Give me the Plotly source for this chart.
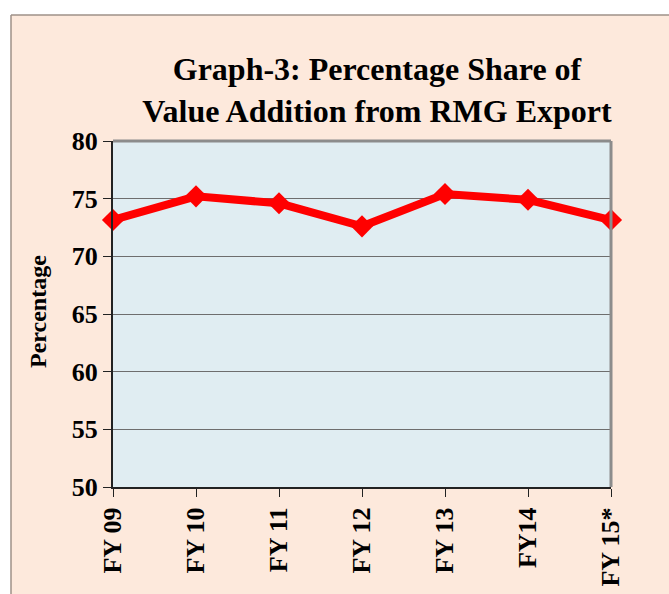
import plotly.graph_objects as go

categories = ["FY 09", "FY 10", "FY 11", "FY 12", "FY 13", "FY14", "FY 15*"]
values = [73.15, 75.2, 74.6, 72.6, 75.4, 74.9, 73.15]
y_ticks = [50, 55, 60, 65, 70, 75, 80]

W, H = 669, 594
L, R, T, B = 113, 58, 141, 107

PEACH = "#FDE9DC"
FONT = "Liberation Serif"

fig = go.Figure()
fig.add_trace(go.Scatter(
    x=categories, y=values, mode="lines+markers",
    line=dict(color="#FF0000", width=8),
    marker=dict(symbol="diamond", size=17, color="#FF0000"),
    showlegend=False, cliponaxis=False,
))

def px_x(p):
    return (p - L) / (W - L - R)

def px_y(p):
    return (H - B - p) / (H - T - B)

shapes = [
    dict(type="rect", xref="paper", yref="paper", x0=-1, x1=3, y0=px_y(15), y1=3,
         fillcolor="white", line_width=0, layer="below"),
    dict(type="rect", xref="paper", yref="paper", x0=-1, x1=px_x(11), y0=-3, y1=3,
         fillcolor="white", line_width=0, layer="below"),
    dict(type="line", xref="paper", yref="paper", x0=px_x(11), x1=3, y0=px_y(15), y1=px_y(15),
         line=dict(color="#9E9189", width=1.5)),
    dict(type="line", xref="paper", yref="paper", x0=px_x(11), x1=px_x(11), y0=-3, y1=px_y(15),
         line=dict(color="#9E9189", width=1.5)),
    dict(type="line", xref="paper", yref="paper", x0=0, x1=1, y0=1, y1=1,
         line=dict(color="#8C8C8C", width=3)),
    dict(type="line", xref="paper", yref="paper", x0=1, x1=1, y0=0, y1=1,
         line=dict(color="#8C8C8C", width=3)),
]

fig.update_layout(
    width=W, height=H,
    margin=dict(l=L, r=R, t=T, b=B, autoexpand=False),
    paper_bgcolor=PEACH,
    plot_bgcolor="#E0EDF2",
    shapes=shapes,
    title=dict(
        text="<b>Graph-3: Percentage Share of<br>Value Addition from RMG Export</b>",
        x=377 / W, xanchor="center", xref="container",
        y=1 - 80 / H, yanchor="middle", yref="container",
        font=dict(family=FONT, size=32, color="black"),
    ),
    annotations=[dict(
        text="<b>Percentage</b>", textangle=-90,
        xref="paper", yref="paper", x=px_x(38), y=px_y(312),
        xanchor="center", yanchor="middle", showarrow=False,
        font=dict(family=FONT, size=24, color="black"),
    )],
)

fig.update_xaxes(
    type="category", range=[0, len(categories) - 1],
    automargin=False,
    showgrid=False, zeroline=False,
    showline=True, linecolor="#222222", linewidth=2,
    ticks="outside", ticklen=8, tickcolor="#222222", tickwidth=1,
    tickangle=-90,
    tickfont=dict(family=FONT, size=26, color="black", weight="bold"),
)
fig.update_yaxes(
    range=[50, 80], tickvals=y_ticks,
    automargin=False,
    showgrid=True, gridcolor="#6E6E6E", gridwidth=1,
    zeroline=False,
    showline=True, linecolor="#222222", linewidth=2,
    ticks="outside", ticklen=8, tickcolor="#222222", tickwidth=1,
    tickfont=dict(family=FONT, size=26, color="black", weight="bold"),
)

fig.write_html(
    "out.html",
    config={"displayModeBar": False},
    post_script="document.body.style.margin='0';document.body.style.overflow='hidden';",
)
